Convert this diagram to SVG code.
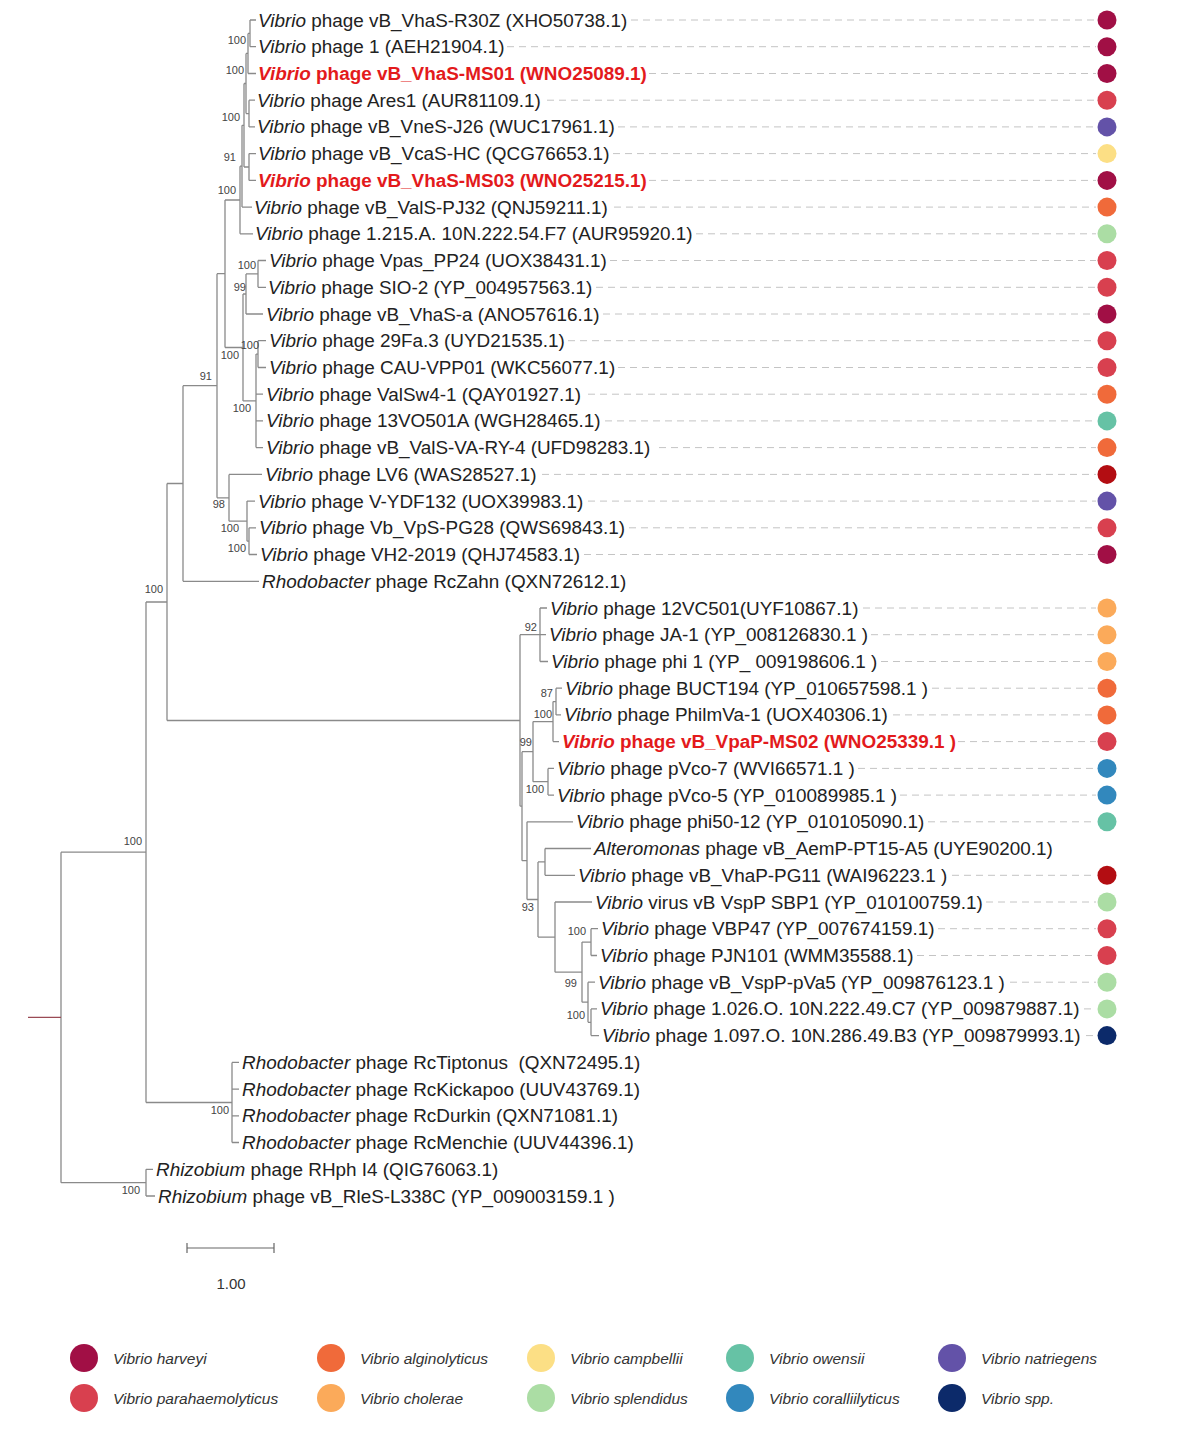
<svg xmlns="http://www.w3.org/2000/svg" width="1178" height="1440" viewBox="0 0 1178 1440">
<style>
.br{stroke:#8a8a8a;stroke-width:1.3;fill:none}
.lb{font-family:"Liberation Sans",Arial,sans-serif;font-size:18.9px;fill:#222}
.rd{fill:#e31a1c;font-weight:bold}
.it{font-style:italic}
.bs{font-family:"Liberation Sans",Arial,sans-serif;font-size:11px;fill:#444;text-anchor:end}
.ds{stroke:#c4c4c4;stroke-width:1;stroke-dasharray:7 5;fill:none}
.lg{font-family:"Liberation Sans",Arial,sans-serif;font-size:15.5px;font-style:italic;fill:#333}
.c1{fill:#a10f45}.c2{fill:#d8404f}.c3{fill:#f06a3a}.c4{fill:#fbaa5a}.c5{fill:#fcdf85}
.c6{fill:#abdda4}.c7{fill:#66c2a5}.c8{fill:#3288bd}.c9{fill:#6352a8}.c10{fill:#0c2a6a}.c11{fill:#b30d12}
</style>
<rect width="1178" height="1440" fill="#fff"/>
<g id="connectors">
<path class="br" d="M250,20V46.7M250,20H256M250,46.7H256M248,33.4H250
M248,33.4V73.5M248,73.5H256M246,53.4H248
M249,100.2V126.9M249,100.2H255M249,126.9H255M246,113.6H249
M246,53.4V113.6M244,83.5H246
M249,153.6V180.4M249,153.6H256M249,180.4H256M244,167H249
M244,83.5V167M242,125.3H244
M242,125.3V207.1M242,207.1H252M240,166.2H242
M240,166.2V233.8M240,233.8H253M225,200H240
M258,260.5V287.3M258,260.5H266M258,287.3H266M246,273.9H258
M246,273.9V314M246,314H263M243,294H246
M258,340.7V367.5M258,340.7H266M258,367.5H266M256,354.1H258
M256,354.1V447.6M256,394.2H263M256,420.9H263M256,447.6H263M243,400.9H256
M243,294V400.9M225,347.5H243
M225,200V347.5M217,273.7H225
M249,527.8V554.5M249,527.8H256M249,554.5H257M247,541.2H249
M247,501.1V541.2M247,501.1H255M229,521.2H247
M229,474.4V521.2M229,474.4H262M217,497.8H229
M217,273.7V497.8M183,385.7H217
M183,385.7V581.3M183,581.3H259M167,483.5H183
M167,483.5V720.5M146,602H167
M540,608V661.5M540,608H547M540,634.7H546M540,661.5H548M520,634.7H540
M556,688.2V714.9M556,688.2H562M556,714.9H561M553,701.6H556
M553,701.6V741.6M553,741.6H559M533,721.6H553
M548,768.4V795.1M548,768.4H554M548,795.1H554M533,781.7H548
M533,721.6V781.7M522,751.7H533
M591,1008.9V1035.6M591,1008.9H597M591,1035.6H599M588,1022.3H591
M588,982.2V1022.3M588,982.2H595M582,1002.2H588
M591,928.7V955.5M591,928.7H598M591,955.5H597M582,942.1H591
M582,942.1V1002.2M555,972.2H582
M555,902V972.2M555,902H592M538,937.1H555
M545,848.5V875.3M545,848.5H591M545,875.3H575M538,861.9H545
M538,861.9V937.1M527,899.5H538
M527,821.8V899.5M527,821.8H573M522,860.7H527
M522,751.7V860.7M520,806.2H522
M520,634.7V806.2M167,720.5H520
M232,1062.4V1142.5M232,1062.4H239M232,1089.1H239M232,1115.8H239M232,1142.5H239M146,1102.5H232
M146,602V1102.5M61,852.2H146
M146,1169.3V1196M146,1169.3H153M146,1196H155M61,1182.7H146
M61,852.2V1182.7"/>
<path d="M28,1017.4H61" stroke="#9a4a55" stroke-width="1.3" fill="none"/>
</g>
<g id="bootstrap">
<text class="bs" x="246" y="44">100</text>
<text class="bs" x="244" y="74">100</text>
<text class="bs" x="240" y="121">100</text>
<text class="bs" x="236" y="161">91</text>
<text class="bs" x="236" y="194">100</text>
<text class="bs" x="256" y="269">100</text>
<text class="bs" x="246" y="291">99</text>
<text class="bs" x="259" y="349">100</text>
<text class="bs" x="251" y="412">100</text>
<text class="bs" x="239" y="359">100</text>
<text class="bs" x="246" y="552">100</text>
<text class="bs" x="239" y="532">100</text>
<text class="bs" x="225" y="508">98</text>
<text class="bs" x="212" y="380">91</text>
<text class="bs" x="163" y="593">100</text>
<text class="bs" x="537" y="631">92</text>
<text class="bs" x="553" y="697">87</text>
<text class="bs" x="552" y="718">100</text>
<text class="bs" x="532" y="746">99</text>
<text class="bs" x="544" y="793">100</text>
<text class="bs" x="534" y="911">93</text>
<text class="bs" x="586" y="935">100</text>
<text class="bs" x="577" y="987">99</text>
<text class="bs" x="585" y="1019">100</text>
<text class="bs" x="229" y="1114">100</text>
<text class="bs" x="142" y="845">100</text>
<text class="bs" x="140" y="1194">100</text>
</g>
<g id="t0"><path class="ds" d="M631,20H1096"/><text class="lb" x="258" y="26.5"><tspan class="it">Vibrio</tspan> phage vB_VhaS-R30Z (XHO50738.1)</text><circle class="c1" cx="1107" cy="20" r="9.5"/></g>
<g id="t1"><path class="ds" d="M507,46.7H1096"/><text class="lb" x="258" y="53.2"><tspan class="it">Vibrio</tspan> phage 1 (AEH21904.1)</text><circle class="c1" cx="1107" cy="46.7" r="9.5"/></g>
<g id="t2"><path class="ds" d="M649,73.5H1096"/><text class="lb rd" x="258" y="80"><tspan class="it">Vibrio</tspan> phage vB_VhaS-MS01 (WNO25089.1)</text><circle class="c1" cx="1107" cy="73.5" r="9.5"/></g>
<g id="t3"><path class="ds" d="M547,100.2H1096"/><text class="lb" x="257" y="106.7"><tspan class="it">Vibrio</tspan> phage Ares1 (AUR81109.1)</text><circle class="c2" cx="1107" cy="100.2" r="9.5"/></g>
<g id="t4"><path class="ds" d="M618,126.9H1096"/><text class="lb" x="257" y="133.4"><tspan class="it">Vibrio</tspan> phage vB_VneS-J26 (WUC17961.1)</text><circle class="c9" cx="1107" cy="126.9" r="9.5"/></g>
<g id="t5"><path class="ds" d="M613,153.6H1096"/><text class="lb" x="258" y="160.1"><tspan class="it">Vibrio</tspan> phage vB_VcaS-HC (QCG76653.1)</text><circle class="c5" cx="1107" cy="153.6" r="9.5"/></g>
<g id="t6"><path class="ds" d="M649,180.4H1096"/><text class="lb rd" x="258" y="186.9"><tspan class="it">Vibrio</tspan> phage vB_VhaS-MS03 (WNO25215.1)</text><circle class="c1" cx="1107" cy="180.4" r="9.5"/></g>
<g id="t7"><path class="ds" d="M614,207.1H1096"/><text class="lb" x="254" y="213.6"><tspan class="it">Vibrio</tspan> phage vB_ValS-PJ32 (QNJ59211.1)</text><circle class="c3" cx="1107" cy="207.1" r="9.5"/></g>
<g id="t8"><path class="ds" d="M696,233.8H1096"/><text class="lb" x="255" y="240.3"><tspan class="it">Vibrio</tspan> phage 1.215.A. 10N.222.54.F7 (AUR95920.1)</text><circle class="c6" cx="1107" cy="233.8" r="9.5"/></g>
<g id="t9"><path class="ds" d="M610,260.5H1096"/><text class="lb" x="269" y="267"><tspan class="it">Vibrio</tspan> phage Vpas_PP24 (UOX38431.1)</text><circle class="c2" cx="1107" cy="260.5" r="9.5"/></g>
<g id="t10"><path class="ds" d="M596,287.3H1096"/><text class="lb" x="268" y="293.8"><tspan class="it">Vibrio</tspan> phage SIO-2 (YP_004957563.1)</text><circle class="c2" cx="1107" cy="287.3" r="9.5"/></g>
<g id="t11"><path class="ds" d="M603,314H1096"/><text class="lb" x="266" y="320.5"><tspan class="it">Vibrio</tspan> phage vB_VhaS-a (ANO57616.1)</text><circle class="c1" cx="1107" cy="314" r="9.5"/></g>
<g id="t12"><path class="ds" d="M568,340.7H1096"/><text class="lb" x="269" y="347.2"><tspan class="it">Vibrio</tspan> phage 29Fa.3 (UYD21535.1)</text><circle class="c2" cx="1107" cy="340.7" r="9.5"/></g>
<g id="t13"><path class="ds" d="M618,367.5H1096"/><text class="lb" x="269" y="374"><tspan class="it">Vibrio</tspan> phage CAU-VPP01 (WKC56077.1)</text><circle class="c2" cx="1107" cy="367.5" r="9.5"/></g>
<g id="t14"><path class="ds" d="M588,394.2H1096"/><text class="lb" x="266" y="400.7"><tspan class="it">Vibrio</tspan> phage ValSw4-1 (QAY01927.1)</text><circle class="c3" cx="1107" cy="394.2" r="9.5"/></g>
<g id="t15"><path class="ds" d="M605,420.9H1096"/><text class="lb" x="266" y="427.4"><tspan class="it">Vibrio</tspan> phage 13VO501A (WGH28465.1)</text><circle class="c7" cx="1107" cy="420.9" r="9.5"/></g>
<g id="t16"><path class="ds" d="M659,447.6H1096"/><text class="lb" x="266" y="454.1"><tspan class="it">Vibrio</tspan> phage vB_ValS-VA-RY-4 (UFD98283.1)</text><circle class="c3" cx="1107" cy="447.6" r="9.5"/></g>
<g id="t17"><path class="ds" d="M542,474.4H1096"/><text class="lb" x="265" y="480.9"><tspan class="it">Vibrio</tspan> phage LV6 (WAS28527.1)</text><circle class="c11" cx="1107" cy="474.4" r="9.5"/></g>
<g id="t18"><path class="ds" d="M588,501.1H1096"/><text class="lb" x="258" y="507.6"><tspan class="it">Vibrio</tspan> phage V-YDF132 (UOX39983.1)</text><circle class="c9" cx="1107" cy="501.1" r="9.5"/></g>
<g id="t19"><path class="ds" d="M629,527.8H1096"/><text class="lb" x="259" y="534.3"><tspan class="it">Vibrio</tspan> phage Vb_VpS-PG28 (QWS69843.1)</text><circle class="c2" cx="1107" cy="527.8" r="9.5"/></g>
<g id="t20"><path class="ds" d="M584,554.5H1096"/><text class="lb" x="260" y="561"><tspan class="it">Vibrio</tspan> phage VH2-2019 (QHJ74583.1)</text><circle class="c1" cx="1107" cy="554.5" r="9.5"/></g>
<g id="t21"><text class="lb" x="262" y="587.8"><tspan class="it">Rhodobacter</tspan> phage RcZahn (QXN72612.1)</text></g>
<g id="t22"><path class="ds" d="M863,608H1096"/><text class="lb" x="550" y="614.5"><tspan class="it">Vibrio</tspan> phage 12VC501(UYF10867.1)</text><circle class="c4" cx="1107" cy="608" r="9.5"/></g>
<g id="t23"><path class="ds" d="M871,634.7H1096"/><text class="lb" x="549" y="641.2"><tspan class="it">Vibrio</tspan> phage JA-1 (YP_008126830.1 )</text><circle class="c4" cx="1107" cy="634.7" r="9.5"/></g>
<g id="t24"><path class="ds" d="M881,661.5H1096"/><text class="lb" x="551" y="668"><tspan class="it">Vibrio</tspan> phage phi 1 (YP_ 009198606.1 )</text><circle class="c4" cx="1107" cy="661.5" r="9.5"/></g>
<g id="t25"><path class="ds" d="M932,688.2H1096"/><text class="lb" x="565" y="694.7"><tspan class="it">Vibrio</tspan> phage BUCT194 (YP_010657598.1 )</text><circle class="c3" cx="1107" cy="688.2" r="9.5"/></g>
<g id="t26"><path class="ds" d="M893,714.9H1096"/><text class="lb" x="564" y="721.4"><tspan class="it">Vibrio</tspan> phage PhilmVa-1 (UOX40306.1)</text><circle class="c3" cx="1107" cy="714.9" r="9.5"/></g>
<g id="t27"><path class="ds" d="M958,741.6H1096"/><text class="lb rd" x="562" y="748.1"><tspan class="it">Vibrio</tspan> phage vB_VpaP-MS02 (WNO25339.1 )</text><circle class="c2" cx="1107" cy="741.6" r="9.5"/></g>
<g id="t28"><path class="ds" d="M858,768.4H1096"/><text class="lb" x="557" y="774.9"><tspan class="it">Vibrio</tspan> phage pVco-7 (WVI66571.1 )</text><circle class="c8" cx="1107" cy="768.4" r="9.5"/></g>
<g id="t29"><path class="ds" d="M900,795.1H1096"/><text class="lb" x="557" y="801.6"><tspan class="it">Vibrio</tspan> phage pVco-5 (YP_010089985.1 )</text><circle class="c8" cx="1107" cy="795.1" r="9.5"/></g>
<g id="t30"><path class="ds" d="M928,821.8H1096"/><text class="lb" x="576" y="828.3"><tspan class="it">Vibrio</tspan> phage phi50-12 (YP_010105090.1)</text><circle class="c7" cx="1107" cy="821.8" r="9.5"/></g>
<g id="t31"><text class="lb" x="594" y="855"><tspan class="it">Alteromonas</tspan> phage vB_AemP-PT15-A5 (UYE90200.1)</text></g>
<g id="t32"><path class="ds" d="M952,875.3H1096"/><text class="lb" x="578" y="881.8"><tspan class="it">Vibrio</tspan> phage vB_VhaP-PG11 (WAI96223.1 )</text><circle class="c11" cx="1107" cy="875.3" r="9.5"/></g>
<g id="t33"><path class="ds" d="M986,902H1096"/><text class="lb" x="595" y="908.5"><tspan class="it">Vibrio</tspan> virus vB VspP SBP1 (YP_010100759.1)</text><circle class="c6" cx="1107" cy="902" r="9.5"/></g>
<g id="t34"><path class="ds" d="M938,928.7H1096"/><text class="lb" x="601" y="935.2"><tspan class="it">Vibrio</tspan> phage VBP47 (YP_007674159.1)</text><circle class="c2" cx="1107" cy="928.7" r="9.5"/></g>
<g id="t35"><path class="ds" d="M917,955.5H1096"/><text class="lb" x="600" y="962"><tspan class="it">Vibrio</tspan> phage PJN101 (WMM35588.1)</text><circle class="c2" cx="1107" cy="955.5" r="9.5"/></g>
<g id="t36"><path class="ds" d="M1010,982.2H1096"/><text class="lb" x="598" y="988.7"><tspan class="it">Vibrio</tspan> phage vB_VspP-pVa5 (YP_009876123.1 )</text><circle class="c6" cx="1107" cy="982.2" r="9.5"/></g>
<g id="t37"><path class="ds" d="M1084,1008.9H1096"/><text class="lb" x="600" y="1015.4"><tspan class="it">Vibrio</tspan> phage 1.026.O. 10N.222.49.C7 (YP_009879887.1)</text><circle class="c6" cx="1107" cy="1008.9" r="9.5"/></g>
<g id="t38"><path class="ds" d="M1086,1035.6H1096"/><text class="lb" x="602" y="1042.1"><tspan class="it">Vibrio</tspan> phage 1.097.O. 10N.286.49.B3 (YP_009879993.1)</text><circle class="c10" cx="1107" cy="1035.6" r="9.5"/></g>
<g id="t39"><text class="lb" x="242" y="1068.9" xml:space="preserve"><tspan class="it">Rhodobacter</tspan> phage RcTiptonus  (QXN72495.1)</text></g>
<g id="t40"><text class="lb" x="242" y="1095.6"><tspan class="it">Rhodobacter</tspan> phage RcKickapoo (UUV43769.1)</text></g>
<g id="t41"><text class="lb" x="242" y="1122.3"><tspan class="it">Rhodobacter</tspan> phage RcDurkin (QXN71081.1)</text></g>
<g id="t42"><text class="lb" x="242" y="1149"><tspan class="it">Rhodobacter</tspan> phage RcMenchie (UUV44396.1)</text></g>
<g id="t43"><text class="lb" x="156" y="1175.8"><tspan class="it">Rhizobium</tspan> phage RHph I4 (QIG76063.1)</text></g>
<g id="t44"><text class="lb" x="158" y="1202.5"><tspan class="it">Rhizobium</tspan> phage vB_RleS-L338C (YP_009003159.1 )</text></g>
<g id="scale">
<path d="M187,1248H274M187,1243V1253M274,1243V1253" stroke="#666" stroke-width="1.2" fill="none"/>
<text x="231" y="1289" font-family="Liberation Sans, Arial, sans-serif" font-size="15" fill="#333" text-anchor="middle">1.00</text>
</g>
<g id="legend">
<circle class="c1" cx="84" cy="1358" r="14"/><text class="lg" x="113" y="1364">Vibrio harveyi</text>
<circle class="c2" cx="84" cy="1398" r="14"/><text class="lg" x="113" y="1404">Vibrio parahaemolyticus</text>
<circle class="c3" cx="331" cy="1358" r="14"/><text class="lg" x="360" y="1364">Vibrio alginolyticus</text>
<circle class="c4" cx="331" cy="1398" r="14"/><text class="lg" x="360" y="1404">Vibrio cholerae</text>
<circle class="c5" cx="541" cy="1358" r="14"/><text class="lg" x="570" y="1364">Vibrio campbellii</text>
<circle class="c6" cx="541" cy="1398" r="14"/><text class="lg" x="570" y="1404">Vibrio splendidus</text>
<circle class="c7" cx="740" cy="1358" r="14"/><text class="lg" x="769" y="1364">Vibrio owensii</text>
<circle class="c8" cx="740" cy="1398" r="14"/><text class="lg" x="769" y="1404">Vibrio coralliilyticus</text>
<circle class="c9" cx="952" cy="1358" r="14"/><text class="lg" x="981" y="1364">Vibrio natriegens</text>
<circle class="c10" cx="952" cy="1398" r="14"/><text class="lg" x="981" y="1404">Vibrio spp.</text>
</g>
</svg>
